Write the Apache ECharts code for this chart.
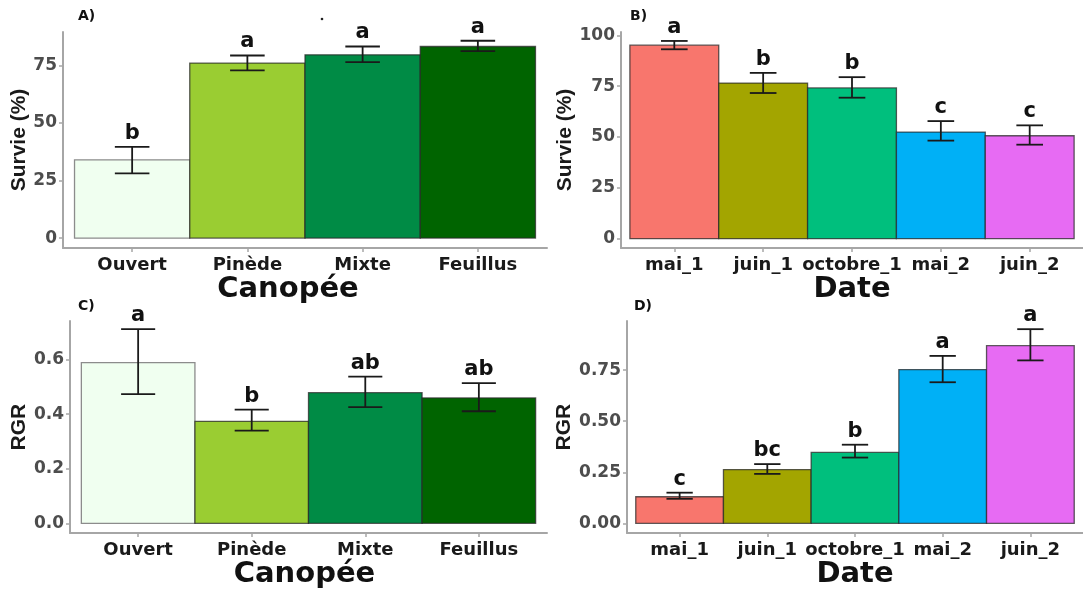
<!DOCTYPE html>
<html>
<head>
<meta charset="utf-8">
<script src="https://cdn.jsdelivr.net/npm/echarts@6/dist/echarts.min.js"></script>
<style>
html,body{margin:0;padding:0;background:#fff;}
#chart{width:1083px;height:590px;}
</style>
</head>
<body>
<div id="chart"></div>
<script>
// ---- Data ----
const catCanopee = ['Ouvert', 'Pinède', 'Mixte', 'Feuillus'];
const catDate = ['mai_1', 'juin_1', 'octobre_1', 'mai_2', 'juin_2'];

const survieCanopee = [34.0, 76.0, 79.6, 83.2];
const survieCanopeeLow = [28.1, 72.8, 76.4, 81.2];
const survieCanopeeHigh = [39.6, 79.3, 83.2, 85.7];
const survieCanopeeLetters = ['b', 'a', 'a', 'a'];

const survieDate = [95.1, 76.5, 74.1, 52.4, 50.6];
const survieDateLow = [93.1, 71.6, 69.3, 48.2, 46.2];
const survieDateHigh = [97.2, 81.5, 79.4, 57.8, 55.7];
const survieDateLetters = ['a', 'b', 'b', 'c', 'c'];

const rgrCanopee = [0.589, 0.374, 0.479, 0.460];
const rgrCanopeeLow = [0.474, 0.340, 0.426, 0.411];
const rgrCanopeeHigh = [0.712, 0.417, 0.538, 0.514];
const rgrCanopeeLetters = ['a', 'b', 'ab', 'ab'];

const rgrDate = [0.130, 0.263, 0.347, 0.753, 0.870];
const rgrDateLow = [0.120, 0.242, 0.322, 0.691, 0.798];
const rgrDateHigh = [0.150, 0.290, 0.385, 0.820, 0.951];
const rgrDateLetters = ['c', 'bc', 'b', 'a', 'a'];

const ticksSurvieA = [0, 25, 50, 75];
const ticksSurvieB = [0, 25, 50, 75, 100];
const ticksRgrC = [0, 0.2, 0.4, 0.6];
const ticksRgrD = [0, 0.25, 0.5, 0.75];

const colorsCanopee = ['#F0FFF0', '#9ACD32', '#008B45', '#006400'];
const colorsDate = ['#F8766D', '#A3A500', '#00BF7D', '#00B0F6', '#E76BF3'];

// ---- Styles ----
const FONT = 'DejaVu Sans';
const axisGray = '#a6a6a6';

const chart = echarts.init(document.getElementById('chart'), null, {renderer: 'canvas'});

const panels = [
  {grid: {left: 63, top: 32, width: 484, height: 216}, cats: catCanopee, vals: survieCanopee, lo: survieCanopeeLow, hi: survieCanopeeHigh, letters: survieCanopeeLetters, colors: colorsCanopee, ymin: -4.3, ymax: 89.5, ticks: ticksSurvieA, dec: 0, yname: 'Survie (%)', ynameGap: 30, xname: 'Canopée', xshift: 34},
  {grid: {left: 621, top: 32, width: 471, height: 216}, cats: catDate, vals: survieDate, lo: survieDateLow, hi: survieDateHigh, letters: survieDateLetters, colors: colorsDate, ymin: -4.6, ymax: 101.6, ticks: ticksSurvieB, dec: 0, yname: 'Survie (%)', ynameGap: 41, xname: 'Date', xshift: 0},
  {grid: {left: 70, top: 321, width: 477, height: 217}, cats: catCanopee, vals: rgrCanopee, lo: rgrCanopeeLow, hi: rgrCanopeeHigh, letters: rgrCanopeeLetters, colors: colorsCanopee, ymin: -0.036, ymax: 0.742, ticks: ticksRgrC, dec: 1, yname: 'RGR', ynameGap: 38, xname: 'Canopée', xshift: 8},
  {grid: {left: 627, top: 321, width: 466, height: 217}, cats: catDate, vals: rgrDate, lo: rgrDateLow, hi: rgrDateHigh, letters: rgrDateLetters, colors: colorsDate, ymin: -0.048, ymax: 0.991, ticks: ticksRgrD, dec: 2, yname: 'RGR', ynameGap: 47, xname: 'Date', xshift: 0}
];

const grids = [], xAxes = [], yAxes = [], series = [];
panels.forEach((p, i) => {
  grids.push(Object.assign({containLabel: false}, p.grid));
  const n = p.cats.length;
  const catIdx = p.cats.map((c, k) => k + 1);
  xAxes.push({
    type: 'value', gridIndex: i, min: 0.4, max: n + 0.6,
    splitLine: {show: false},
    axisLine: {show: true, onZero: false, lineStyle: {color: axisGray, width: 2}},
    axisTick: {show: true, customValues: catIdx, length: 4, lineStyle: {color: axisGray, width: 1.5}},
    axisLabel: {
      show: true, customValues: catIdx, margin: 8,
      formatter: v => p.cats[Math.round(v) - 1] || '',
      fontFamily: FONT, fontWeight: 'bold', fontSize: 18, color: '#1a1a1a'
    },
    name: p.xname, nameLocation: 'middle', nameGap: 26,
    nameTextStyle: {fontFamily: FONT, fontWeight: 'bold', fontSize: 29, color: '#111', verticalAlign: 'top', padding: [0, p.xshift, 0, 0]}
  });
  yAxes.push({
    type: 'value', gridIndex: i, min: p.ymin, max: p.ymax,
    splitLine: {show: false},
    axisLine: {show: true, onZero: false, lineStyle: {color: axisGray, width: 2}},
    axisTick: {show: true, customValues: p.ticks, length: 4, lineStyle: {color: axisGray, width: 1.5}},
    axisLabel: {
      show: true, customValues: p.ticks, margin: 6,
      formatter: v => Number(v).toFixed(p.dec),
      fontFamily: FONT, fontWeight: 'bold', fontSize: 17, color: '#4d4d4d'
    },
    name: p.yname, nameLocation: 'middle', nameRotate: 90, nameGap: p.ynameGap,
    nameTextStyle: {fontFamily: 'Liberation Sans', fontWeight: 'bold', fontSize: 21, color: '#1a1a1a'}
  });
  const data = p.vals.map((v, k) => [k + 1, v, p.lo[k], p.hi[k]]);
  series.push({
    type: 'custom', xAxisIndex: i, yAxisIndex: i, coordinateSystem: 'cartesian2d',
    clip: false, silent: true,
    encode: {x: 0, y: [1, 2, 3]},
    data: data,
    renderItem: (params, api) => {
      const x = api.value(0), v = api.value(1), lo = api.value(2), hi = api.value(3);
      const k = params.dataIndex;
      const a0 = api.coord([x - 0.5, 0]);
      const a1 = api.coord([x + 0.5, v]);
      const pLo = api.coord([x, lo]);
      const pHi = api.coord([x, hi]);
      const capL = api.coord([x - 0.15, lo])[0];
      const capR = api.coord([x + 0.15, lo])[0];
      const light = p.colors[k] === '#F0FFF0';
      return {
        type: 'group',
        children: [
          {type: 'rect', shape: {x: a0[0], y: a1[1], width: a1[0] - a0[0], height: a0[1] - a1[1]},
           style: {fill: p.colors[k], stroke: light ? '#8c8c8c' : 'rgba(40,40,40,0.75)', lineWidth: 1.3}},
          {type: 'line', shape: {x1: pLo[0], y1: pLo[1], x2: pHi[0], y2: pHi[1]}, style: {stroke: '#1a1a1a', lineWidth: 1.8}},
          {type: 'line', shape: {x1: capL, y1: pLo[1], x2: capR, y2: pLo[1]}, style: {stroke: '#1a1a1a', lineWidth: 1.8}},
          {type: 'line', shape: {x1: capL, y1: pHi[1], x2: capR, y2: pHi[1]}, style: {stroke: '#1a1a1a', lineWidth: 1.8}},
          {type: 'text', x: pHi[0], y: pHi[1] - 3,
           style: {text: p.letters[k], fill: '#111', font: 'bold 21px "DejaVu Sans"', textAlign: 'center', textVerticalAlign: 'bottom'}}
        ]
      };
    }
  });
});

chart.setOption({
  animation: false,
  backgroundColor: '#ffffff',
  grid: grids,
  xAxis: xAxes,
  yAxis: yAxes,
  series: series,
  graphic: [
    {type: 'text', left: 78, top: 9, style: {text: 'A)', font: 'bold 14px "DejaVu Sans"', fill: '#111'}},
    {type: 'text', left: 630, top: 9, style: {text: 'B)', font: 'bold 14px "DejaVu Sans"', fill: '#111'}},
    {type: 'text', left: 78, top: 299, style: {text: 'C)', font: 'bold 14px "DejaVu Sans"', fill: '#111'}},
    {type: 'text', left: 634, top: 299, style: {text: 'D)', font: 'bold 14px "DejaVu Sans"', fill: '#111'}},
    {type: 'circle', shape: {cx: 322, cy: 19, r: 1.3}, style: {fill: '#222'}}
  ]
});
</script>
</body>
</html>
